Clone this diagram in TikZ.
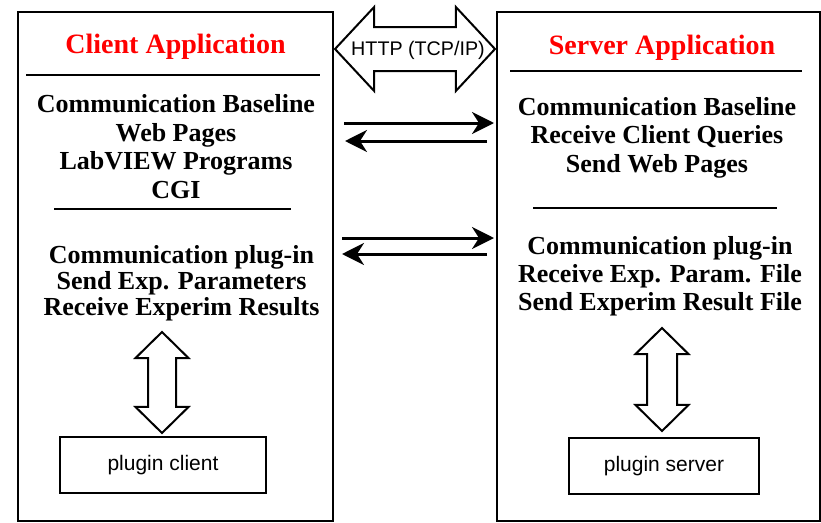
\documentclass[tikz,border=0pt]{standalone}
\usepackage{fontspec}
\setmainfont{Liberation Serif}
\newfontfamily\guisans{Liberation Sans}
\usetikzlibrary{positioning, shapes.arrows, arrows.meta}
\tikzstyle{appbox}   = [rectangle, draw=black, line width=2pt, inner sep=0pt]
\tikzstyle{apptitle} = [text=red, font=\fontsize{28}{30}\selectfont\bfseries, anchor=base, inner sep=0pt]
\tikzstyle{applist}  = [align=center, font=\fontsize{26}{28.5}\selectfont\bfseries, anchor=base, inner sep=0pt]
\tikzstyle{rule}     = [line width=2.5pt]
\tikzstyle{msg}      = [line width=3pt, -{Stealth[length=22pt, width=22pt, inset=7pt]}]
\tikzstyle{bigarrow} = [double arrow, draw=black, line width=2pt]
\tikzstyle{plugbox}  = [rectangle, draw=black, line width=2pt, minimum height=56pt, font=\guisans\fontsize{21}{24}\selectfont]

\begin{document}
\begin{tikzpicture}[x=1pt, y=-1pt]
            \useasboundingbox (0,0) rectangle (821,522);

            % the two applications
            \node[appbox, minimum width=315pt, minimum height=509pt] (client) at (175.5,266.5) {};
            \node[appbox, minimum width=323pt, minimum height=509pt] (server) at (658.5,266.5) {};

            \node[apptitle] (ctitle) at (175.5,53) {Client Application};
            \node[apptitle] (stitle) at (662,54) {Server Application};
            \draw[rule] (26,75) -- (320,75);
            \draw[rule] (510,71) -- (802,71);

            \node[applist] (cbase) at (176,198) {Communication Baseline\\Web Pages\\LabVIEW Programs\\CGI};
            \node[applist] (sbase) at (657,172) {Communication Baseline\\Receive Client Queries\\Send Web Pages};
            \draw[rule] (54,209) -- (291,209);
            \draw[rule] (533,208) -- (777,208);

            \node[applist, font=\fontsize{26}{26}\selectfont\bfseries] (cplug) at (181.5,315) {Communication plug-in\\Send Exp. Parameters\\Receive Experim Results};
            \node[applist, font=\fontsize{26}{28}\selectfont\bfseries] (splug) at (660,310) {Communication plug-in\\Receive Exp. Param. File\\Send Experim Result File};

            % HTTP link
            \node[bigarrow, inner sep=21pt, minimum height=160pt, double arrow head extend=20pt, double arrow tip angle=94] (http) at (415,49) {};
            \node[font=\guisans\fontsize{19.7}{22}\selectfont, inner sep=0pt] (httptext) at (418,50) {HTTP (TCP/IP)};

            \coordinate (cq1) at (344,123);
            \coordinate (sq1) at (494,123);
            \coordinate (sr1) at (487,141);
            \coordinate (cr1) at (345,141);
            \coordinate (cq2) at (342,238);
            \coordinate (sq2) at (494,238);
            \coordinate (sr2) at (487,254);
            \coordinate (cr2) at (342,254);
            \draw[msg] (cq1) -- (sq1);
            \draw[msg] (sr1) -- (cr1);
            \draw[msg] (cq2) -- (sq2);
            \draw[msg] (sr2) -- (cr2);

            % plugins
            \node[bigarrow, shape border rotate=90, inner sep=13pt, minimum height=101pt, double arrow head extend=12.5pt, double arrow tip angle=91] (carrow) at (162,382.5) {};
            \node[bigarrow, shape border rotate=90, inner sep=14pt, minimum height=103pt, double arrow head extend=11.5pt, double arrow tip angle=91] (sarrow) at (662,379.5) {};
            \node[plugbox, minimum width=206pt] (cplugin) at (163,465) {plugin client};
            \node[plugbox, minimum width=190pt] (splugin) at (664,466) {plugin server};
\end{tikzpicture}
\end{document}
